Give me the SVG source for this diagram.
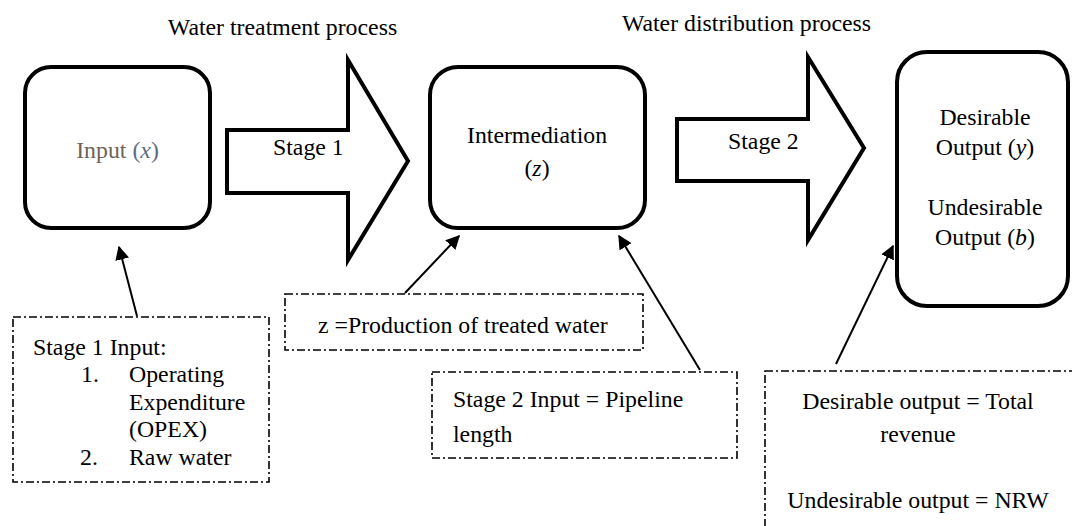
<svg xmlns="http://www.w3.org/2000/svg" width="1072" height="526" viewBox="0 0 1072 526">
<defs>
<style>
.c{text-anchor:middle}
.i{font-style:italic}
.box{fill:#fff;stroke:#000;stroke-width:4}
.arr{fill:#fff;stroke:#000;stroke-width:4;stroke-linejoin:miter}
.note{fill:#fff;stroke:#000;stroke-width:1.6;stroke-dasharray:8 3 2 3}
.con{stroke:#000;stroke-width:2;fill:none;marker-end:url(#ah)}
</style>
<marker id="ah" viewBox="0 0 10 10" refX="9" refY="5" markerWidth="7" markerHeight="7" orient="auto" markerUnits="strokeWidth">
<path d="M0,0 L10,5 L0,10 z" fill="#000"/>
</marker>
</defs>
<rect width="1072" height="526" fill="#fff"/>
<g font-family="Liberation Serif, Tinos, DejaVu Serif, serif" font-size="23.8" fill="#000">
<text id="title1" class="c" x="282.5" y="35">Water treatment process</text>
<text id="title2" class="c" x="746.5" y="31">Water distribution process</text>

<g id="input">
<rect class="box" x="25" y="67" width="185" height="161" rx="26"/>
<text class="c" x="117.5" y="158"><tspan fill="#6e6359">Input </tspan><tspan fill="#5d6b85">(<tspan class="i">x</tspan>)</tspan></text>
</g>

<g id="stage1">
<polygon class="arr" points="227,130 348,130 348,60 408,161 348,260 348,193 227,193"/>
<text x="273" y="155">Stage 1</text>
</g>

<g id="intermediation">
<rect class="box" x="430" y="67" width="215" height="161" rx="28"/>
<text class="c" x="537" y="143">Intermediation</text>
<text class="c" x="537" y="176">(<tspan class="i">z</tspan>)</text>
</g>

<g id="stage2">
<polygon class="arr" points="677,119 808,119 808,57 864,148 808,240 808,181 677,181"/>
<text x="728" y="149">Stage 2</text>
</g>

<g id="output">
<rect class="box" x="897" y="52" width="171" height="254" rx="30"/>
<text class="c" x="985" y="125">Desirable</text>
<text class="c" x="985" y="155">Output (<tspan class="i">y</tspan>)</text>
<text class="c" x="985" y="215">Undesirable</text>
<text class="c" x="985" y="245">Output (<tspan class="i">b</tspan>)</text>
</g>

<g id="note-stage1">
<rect class="note" x="13" y="317" width="256" height="165"/>
<text x="33" y="355">Stage 1 Input:</text>
<text x="81" y="382">1.</text>
<text x="129" y="382">Operating</text>
<text x="129" y="410">Expenditure</text>
<text x="129" y="437">(OPEX)</text>
<text x="80" y="465">2.</text>
<text x="129" y="465">Raw water</text>
</g>

<g id="note-z">
<rect class="note" x="285" y="294" width="358" height="56"/>
<text x="318" y="333">z =Production of treated water</text>
</g>

<g id="note-stage2">
<rect class="note" x="432" y="372" width="305" height="86"/>
<text x="453" y="407">Stage 2 Input = Pipeline</text>
<text x="453" y="442">length</text>
</g>

<g id="note-output">
<rect class="note" x="765" y="371" width="330" height="180"/>
<text class="c" x="918" y="409">Desirable output = Total</text>
<text class="c" x="918" y="442">revenue</text>
<text class="c" x="918" y="508">Undesirable output = NRW</text>
</g>
</g>

<g id="connectors">
<line class="con" x1="137" y1="316" x2="119" y2="247"/>
<line class="con" x1="405" y1="293" x2="459" y2="236"/>
<line class="con" x1="700" y1="370" x2="619" y2="236"/>
<line class="con" x1="836" y1="364" x2="893" y2="246"/>
</g>
</svg>
